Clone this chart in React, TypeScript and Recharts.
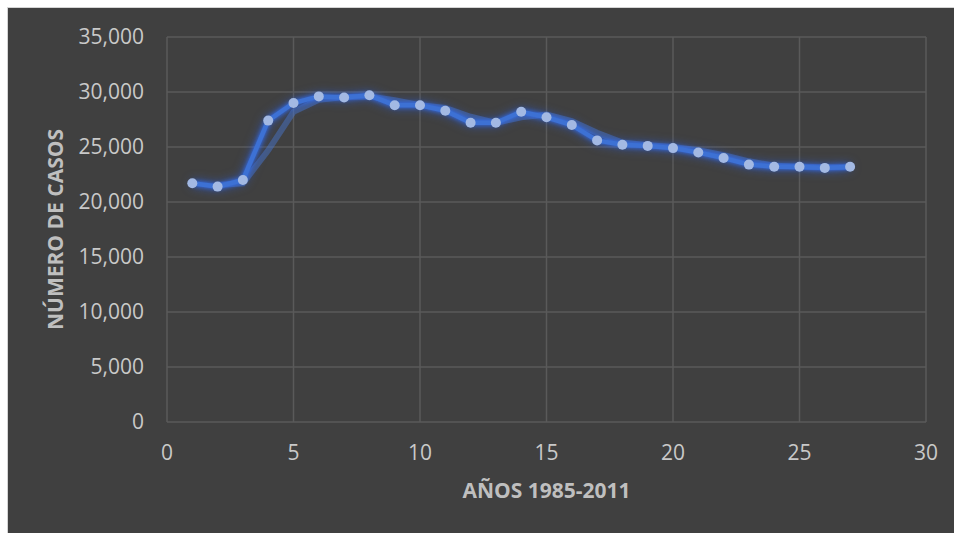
import { LineChart, Line, XAxis, YAxis, CartesianGrid, Label } from "recharts";

// years numbered 1..27 (1985-2011)
const years = [1, 2, 3, 4, 5, 6, 7, 8, 9, 10, 11, 12, 13, 14, 15, 16, 17, 18, 19, 20, 21, 22, 23, 24, 25, 26, 27];
const casos = [
  21700, 21400, 22000, 27400, 29000, 29600, 29500, 29700, 28800, 28800, 28300, 27200, 27200, 28200,
  27700, 27000, 25600, 25200, 25100, 24900, 24500, 24000, 23400, 23200, 23200, 23100, 23200,
];
const xTicks = [0, 5, 10, 15, 20, 25, 30];
const yTicks = [0, 5000, 10000, 15000, 20000, 25000, 30000, 35000];

// Excel style 2-period moving average trendline, taken from the series itself
const data = years.map((x, i) => ({
  x,
  casos: casos[i],
  media: i === 0 ? null : (casos[i] + casos[i - 1]) / 2,
}));

const tickStyle = { fill: "#c9c9c9", fontSize: 21, fontFamily: "Open Sans" };
const titleStyle = { fill: "#bfbfbf", fontSize: 21, fontWeight: 700, fontFamily: "Open Sans" };

export default function App() {
  return (
    <>
      <style>{`
        body { margin: 0; overflow: hidden; }
        .glow { filter: drop-shadow(0 0 2px rgba(50, 115, 255, 0.9)) drop-shadow(0 0 5px rgba(40, 100, 255, 0.6)); }
      `}</style>
      <div
        style={{
          marginLeft: 7,
          marginTop: 7,
          width: 946,
          height: 525,
          borderLeft: "1px solid #d4d4d4",
          borderTop: "1px solid #d4d4d4",
          background: "#404040",
        }}
      >
        <LineChart width={946} height={525} data={data} margin={{ top: 29, right: 28, bottom: 31, left: 20 }}>
          <CartesianGrid stroke="#5a5a5a" strokeWidth={1.5} />
          <XAxis
            dataKey="x"
            type="number"
            domain={[0, 30]}
            ticks={xTicks}
            height={80}
            axisLine={false}
            tickLine={false}
            tickSize={0}
            tickMargin={23}
            tick={tickStyle}
          >
            <Label value="AÑOS 1985-2011" position="insideBottom" offset={4} style={titleStyle} />
          </XAxis>
          <YAxis
            type="number"
            domain={[0, 35000]}
            ticks={yTicks}
            width={139}
            axisLine={false}
            tickLine={false}
            tickSize={0}
            tickMargin={23}
            tick={tickStyle}
            tickFormatter={(v: number) => v.toLocaleString("en-US")}
          >
            <Label
              value="NÚMERO DE CASOS"
              angle={-90}
              position="insideLeft"
              offset={28}
              style={{ ...titleStyle, textAnchor: "middle" }}
            />
          </YAxis>
          <Line
            dataKey="media"
            type="linear"
            stroke="#4a7bd6"
            strokeOpacity={0.45}
            strokeWidth={6}
            dot={false}
            connectNulls={false}
            isAnimationActive={false}
          />
          <Line
            className="glow"
            dataKey="casos"
            type="linear"
            stroke="#3d71d4"
            strokeWidth={4.5}
            dot={{ r: 5, fill: "#a3b9e3", stroke: "none" }}
            isAnimationActive={false}
          />
        </LineChart>
      </div>
    </>
  );
}
